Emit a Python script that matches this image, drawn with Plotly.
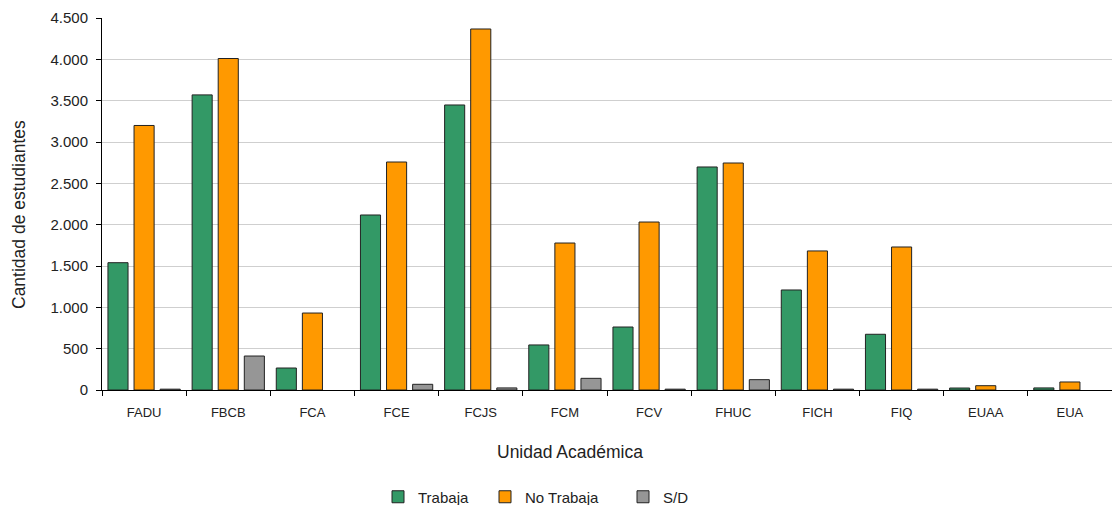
import plotly.graph_objects as go

categories = ["FADU", "FBCB", "FCA", "FCE", "FCJS", "FCM", "FCV", "FHUC", "FICH", "FIQ", "EUAA", "EUA"]
trabaja = [1540, 3570, 266, 2117, 3448, 545, 762, 2698, 1210, 674, 24, 25]
no_trabaja = [3200, 4010, 931, 2758, 4367, 1778, 2032, 2746, 1682, 1730, 52, 97]
sd = [10, 411, None, 69, 25, 141, 10, 125, 10, 10, None, None]

series = [
    ("Trabaja", trabaja, "#339966", "legend"),
    ("No Trabaja", no_trabaja, "#FF9900", "legend2"),
    ("S/D", sd, "#969696", "legend3"),
]

# the page has an 8px body margin, so the figure is 8px smaller and offset
OFF = 8
W, H = 1120 - OFF, 505 - OFF
L, T = 102 - OFF, 18 - OFF
PW, PH = 1010, 372

fig = go.Figure()
for name, vals, color, lg in series:
    fig.add_trace(go.Bar(
        x=categories, y=vals, name=name, legend=lg,
        marker=dict(color=color, line=dict(color="#222222", width=1)),
    ))

font_family = "Liberation Sans, Arial, sans-serif"
leg_y = (H - (497 - OFF)) / H
leg_common = dict(orientation="h", xref="container", yref="container",
                  xanchor="left", yanchor="middle", y=leg_y,
                  font=dict(size=15, color="#222222"), itemwidth=30,
                  bgcolor="rgba(0,0,0,0)")

def px_x(page_x):
    return (page_x - OFF - L) / PW

def px_y(page_y):
    return (T + PH - (page_y - OFF)) / PH

fig.update_layout(
    width=W, height=H,
    margin=dict(l=L, r=W - L - PW, t=T, b=H - T - PH, autoexpand=False),
    paper_bgcolor="white", plot_bgcolor="white",
    separators=",.",
    barmode="group", bargap=0.07, bargroupgap=0.23,
    font=dict(family=font_family, size=13, color="#222222"),
    showlegend=True,
    legend=dict(leg_common, x=(418 - OFF - 40) / W),
    legend2=dict(leg_common, x=(525 - OFF - 40) / W),
    legend3=dict(leg_common, x=(663 - OFF - 40) / W),
    xaxis=dict(
        type="category", showline=True, linecolor="#000000", linewidth=1,
        ticks="outside", tickson="boundaries", ticklen=5, tickcolor="#000000",
        tickfont=dict(size=13), ticklabelstandoff=10, automargin=False,
        showgrid=False,
    ),
    yaxis=dict(
        range=[0, 4500], dtick=500, tickformat=",d",
        showline=True, linecolor="#000000", linewidth=1,
        ticks="outside", ticklen=5, tickcolor="#000000",
        showgrid=True, gridcolor="#cfcfcf", gridwidth=1,
        zeroline=False, automargin=False,
        tickfont=dict(size=15), ticklabelstandoff=5,
    ),
    annotations=[
        dict(text="Unidad Académica", xref="paper", yref="paper",
             x=px_x(570), y=px_y(452),
             xanchor="center", yanchor="middle", showarrow=False,
             font=dict(size=17.5, color="#222222")),
        dict(text="Cantidad de estudiantes", xref="paper", yref="paper",
             x=px_x(19), y=px_y(215), textangle=-90,
             xanchor="center", yanchor="middle", showarrow=False,
             font=dict(size=17.5, color="#222222")),
    ],
)

fig.write_html("out.html")
